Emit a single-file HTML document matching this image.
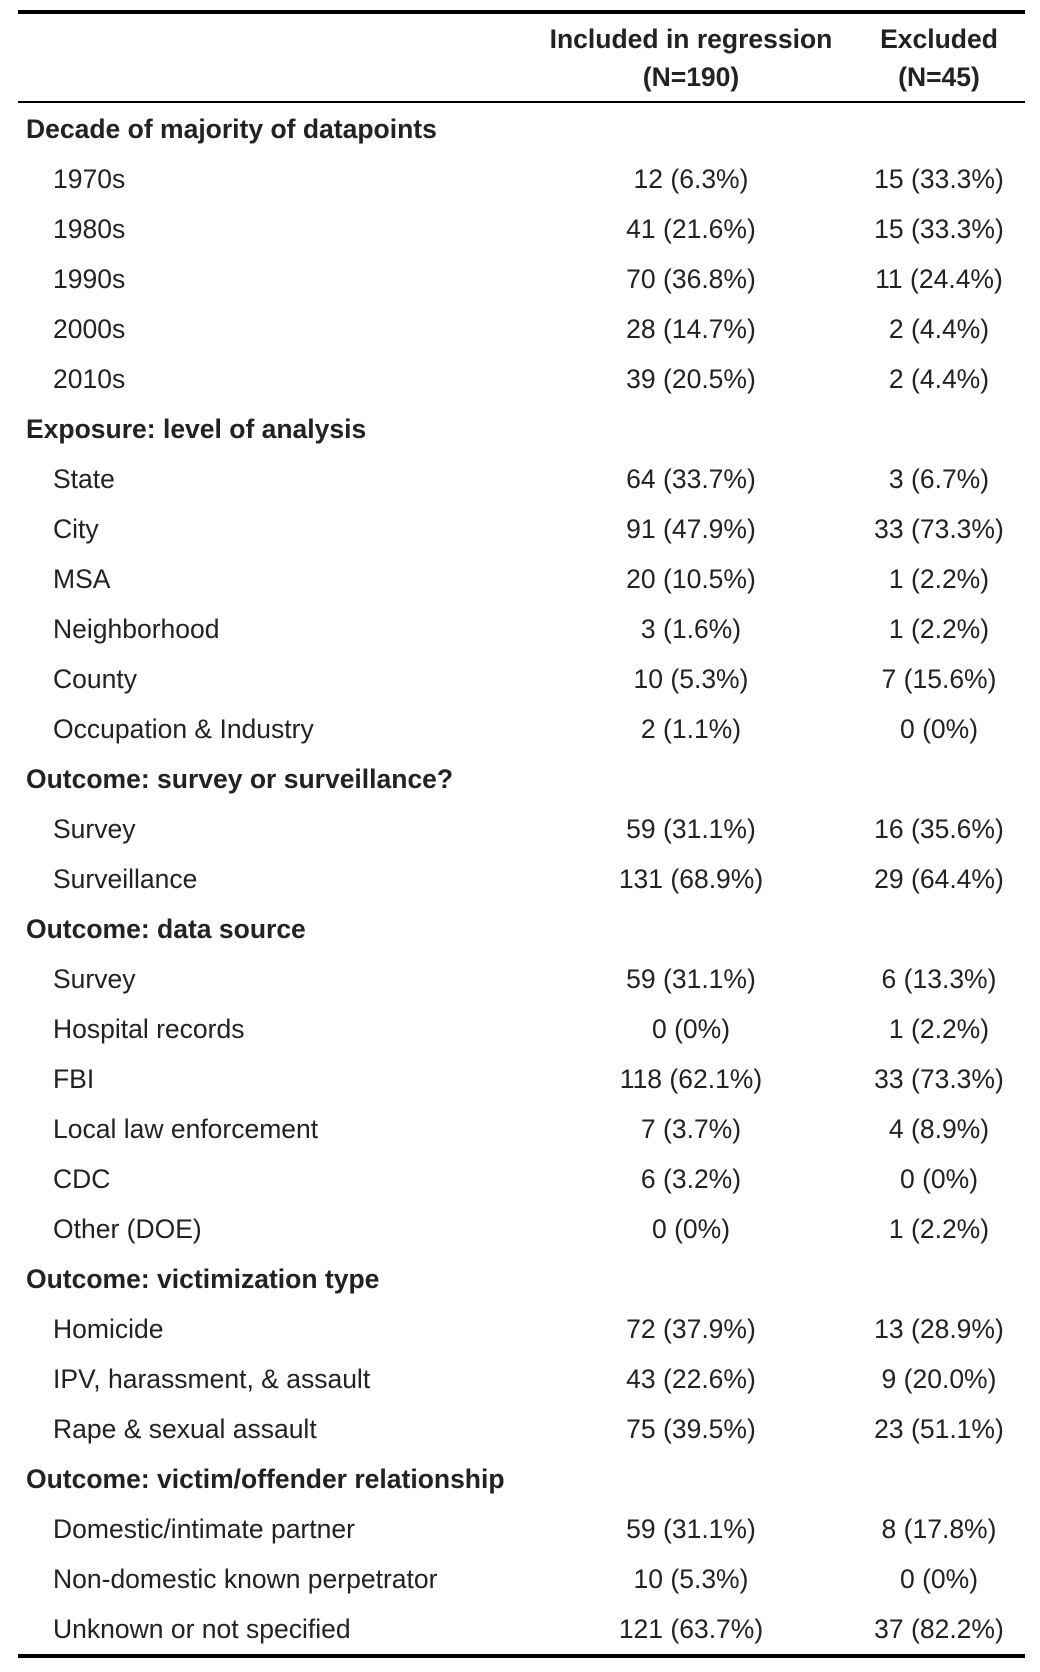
<!DOCTYPE html>
<html><head><meta charset="utf-8"><style>
body{margin:0;width:1040px;height:1672px;background:#fff;position:relative;font-family:"Liberation Sans",Arial,sans-serif;color:#222;overflow:hidden}
.l{position:absolute;background:#000;left:18px;width:1007px}
.t{position:absolute;font-size:26.5px;line-height:30px;white-space:nowrap}
.b{font-weight:bold}
.c{transform:translateX(-50%);text-align:center}
</style></head><body>
<div class="l" style="top:10px;height:4px"></div>
<div class="l" style="top:101px;height:2px"></div>
<div class="l" style="top:1654px;height:4px"></div>
<div class="t b c" style="left:691px;top:20px;line-height:38px">Included in regression<br>(N=190)</div>
<div class="t b c" style="left:939px;top:20px;line-height:38px">Excluded<br>(N=45)</div>
<div id="rows"></div>
<script>
const rows=[
["h","Decade of majority of datapoints"],
["1970s","12 (6.3%)","15 (33.3%)"],["1980s","41 (21.6%)","15 (33.3%)"],["1990s","70 (36.8%)","11 (24.4%)"],["2000s","28 (14.7%)","2 (4.4%)"],["2010s","39 (20.5%)","2 (4.4%)"],
["h","Exposure: level of analysis"],
["State","64 (33.7%)","3 (6.7%)"],["City","91 (47.9%)","33 (73.3%)"],["MSA","20 (10.5%)","1 (2.2%)"],["Neighborhood","3 (1.6%)","1 (2.2%)"],["County","10 (5.3%)","7 (15.6%)"],["Occupation &amp; Industry","2 (1.1%)","0 (0%)"],
["h","Outcome: survey or surveillance?"],
["Survey","59 (31.1%)","16 (35.6%)"],["Surveillance","131 (68.9%)","29 (64.4%)"],
["h","Outcome: data source"],
["Survey","59 (31.1%)","6 (13.3%)"],["Hospital records","0 (0%)","1 (2.2%)"],["FBI","118 (62.1%)","33 (73.3%)"],["Local law enforcement","7 (3.7%)","4 (8.9%)"],["CDC","6 (3.2%)","0 (0%)"],["Other (DOE)","0 (0%)","1 (2.2%)"],
["h","Outcome: victimization type"],
["Homicide","72 (37.9%)","13 (28.9%)"],["IPV, harassment, &amp; assault","43 (22.6%)","9 (20.0%)"],["Rape &amp; sexual assault","75 (39.5%)","23 (51.1%)"],
["h","Outcome: victim/offender relationship"],
["Domestic/intimate partner","59 (31.1%)","8 (17.8%)"],["Non-domestic known perpetrator","10 (5.3%)","0 (0%)"],["Unknown or not specified","121 (63.7%)","37 (82.2%)"]
];
let h='';
rows.forEach((r,i)=>{
 const y=Math.round(129+i*50-15);
 if(r[0]==='h'){
  h+=`<div class="t b" style="left:26px;top:${y}px">${r[1]}</div>`;
 }else{
  h+=`<div class="t" style="left:53px;top:${y}px">${r[0]}</div>`;
  h+=`<div class="t c" style="left:691px;top:${y}px">${r[1]}</div>`;
  h+=`<div class="t c" style="left:939px;top:${y}px">${r[2]}</div>`;
 }
});
document.getElementById('rows').innerHTML=h;
</script>
</body></html>
